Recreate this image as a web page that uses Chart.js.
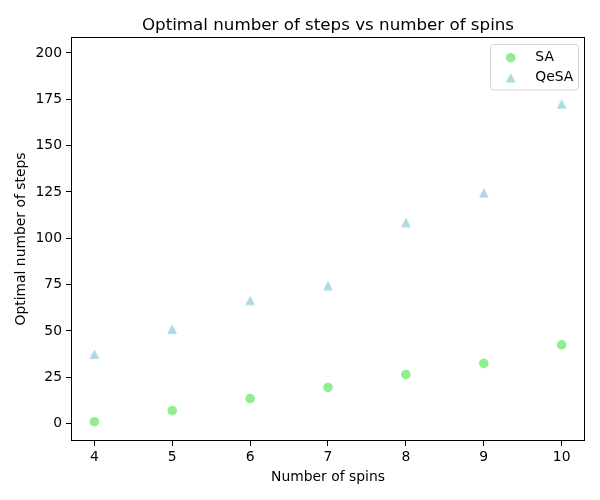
<!DOCTYPE html>
<html>
<head>
<meta charset="utf-8">
<script src="https://cdn.jsdelivr.net/npm/chart.js@4"></script>
<style>
  html, body { margin: 0; padding: 0; background: #fff; }
  #wrap { width: 600px; height: 500px; }
</style>
</head>
<body>
<div id="wrap"><canvas id="grafico" width="600" height="500"></canvas></div>
<script>
// datos
const spins = [4, 5, 6, 7, 8, 9, 10];
const pasosSA = [1, 7, 13.5, 19.5, 26.5, 32.5, 42.5];
const pasosQeSA = [37.5, 51, 66.5, 74.5, 108.5, 124.5, 172.5];
const ticksY = [0, 25, 50, 75, 100, 125, 150, 175, 200];

const FUENTE = "'DejaVu Sans', sans-serif";

// triángulo estilo matplotlib (centrado en su caja)
function hacerTriangulo(color) {
  const c = document.createElement("canvas");
  c.width = 12; c.height = 12;
  const g = c.getContext("2d");
  g.fillStyle = color;
  g.beginPath();
  g.moveTo(6, 1.3);
  g.lineTo(1.1, 10.7);
  g.lineTo(10.9, 10.7);
  g.closePath();
  g.fill();
  return c;
}
const triangulo = hacerTriangulo("#add8e6");

// marco, título y leyenda
const extras = {
  id: "extras",
  afterDraw(chart) {
    const ctx = chart.ctx;
    const a = chart.chartArea;
    ctx.save();
    ctx.strokeStyle = "#000";
    ctx.lineWidth = 1;
    ctx.strokeRect(Math.round(a.left) + 0.5, Math.round(a.top) + 0.5,
      Math.round(a.right - a.left) - 1, Math.round(a.bottom - a.top) - 1);

    ctx.fillStyle = "#000";
    ctx.font = "16.7px " + FUENTE;
    ctx.textAlign = "center";
    ctx.textBaseline = "alphabetic";
    ctx.fillText("Optimal number of steps vs number of spins", (a.left + a.right) / 2, 29.5);

    // leyenda
    const lx = 490.5, ly = 44.5, lw = 88, lh = 45.5;
    ctx.beginPath();
    ctx.roundRect(lx, ly, lw, lh, 3);
    ctx.fillStyle = "rgba(255,255,255,0.8)";
    ctx.fill();
    ctx.strokeStyle = "#d6d6d6";
    ctx.stroke();

    ctx.font = "13.9px " + FUENTE;
    ctx.textAlign = "left";
    ctx.textBaseline = "middle";
    chart.data.datasets.forEach((ds, i) => {
      const y = 57.7 + i * 20;
      if (ds.pointStyle === "circle") {
        ctx.beginPath();
        ctx.arc(510.7, y, ds.pointRadius, 0, Math.PI * 2);
        ctx.fillStyle = ds.backgroundColor;
        ctx.fill();
      } else {
        ctx.drawImage(ds.pointStyle, 510.7 - 6, y - 6);
      }
      ctx.fillStyle = "#000";
      ctx.fillText(ds.label, 535.3, y);
    });
    ctx.restore();
  }
};

Chart.defaults.color = "#000";
Chart.defaults.font.family = FUENTE;
Chart.defaults.font.size = 13.9;

new Chart(document.getElementById("grafico"), {
  type: "scatter",
  data: {
    datasets: [
      {
        label: "SA",
        data: spins.map((s, i) => ({ x: s, y: pasosSA[i] })),
        backgroundColor: "#90ee90",
        borderWidth: 0,
        pointStyle: "circle",
        pointRadius: 4.8,
        pointHoverRadius: 4.8
      },
      {
        label: "QeSA",
        data: spins.map((s, i) => ({ x: s, y: pasosQeSA[i] })),
        backgroundColor: "#add8e6",
        borderWidth: 0,
        pointStyle: triangulo,
        pointRadius: 5,
        pointHoverRadius: 5
      }
    ]
  },
  options: {
    responsive: false,
    animation: false,
    events: [],
    layout: { padding: { top: 37, right: 15, left: 0, bottom: 0 } },
    plugins: {
      legend: { display: false },
      title: { display: false },
      tooltip: { enabled: false }
    },
    scales: {
      x: {
        type: "linear",
        min: 3.7,
        max: 10.3,
        afterFit: s => { s.height = 59; },
        ticks: { stepSize: 1, includeBounds: false, padding: 3, maxRotation: 0 },
        grid: { drawOnChartArea: false, color: "#000", tickLength: 5, tickWidth: 1 },
        border: { display: false },
        title: {
          display: true,
          text: "Number of spins",
          font: { size: 13.9 },
          padding: { top: 0, bottom: 14.6 }
        }
      },
      y: {
        type: "linear",
        min: -9.4,
        max: 208.6,
        afterFit: s => { s.width = 71; },
        afterBuildTicks: s => { s.ticks = ticksY.map(v => ({ value: v })); },
        ticks: { padding: 4, includeBounds: false },
        grid: { drawOnChartArea: false, color: "#000", tickLength: 5, tickWidth: 1 },
        border: { display: false },
        title: {
          display: true,
          text: "Optimal number of steps",
          font: { size: 13.9 },
          padding: { top: 12.6, bottom: 0 }
        }
      }
    }
  },
  plugins: [extras]
});
</script>
</body>
</html>
